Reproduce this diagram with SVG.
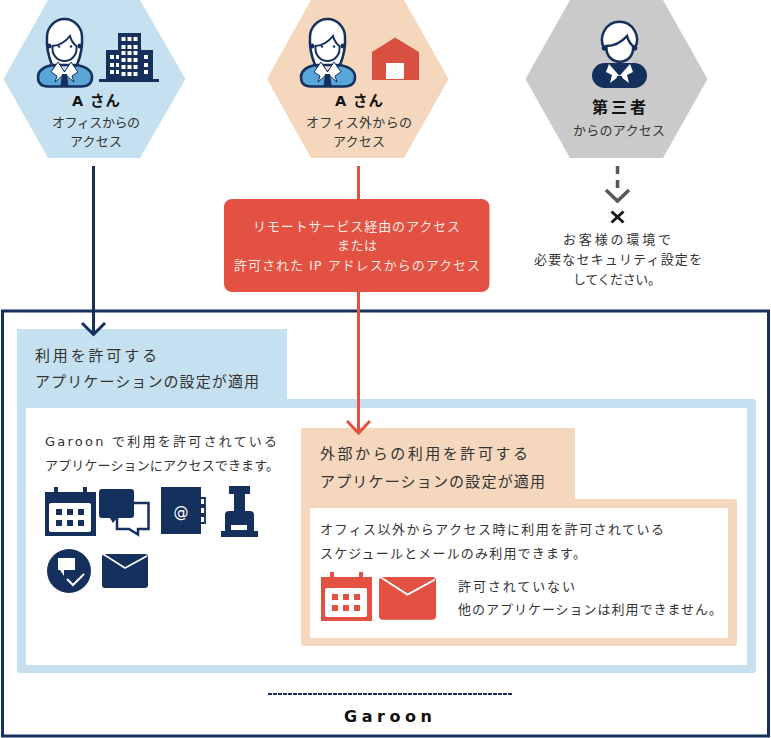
<svg xmlns="http://www.w3.org/2000/svg" width="771" height="738" viewBox="0 0 771 738">
<style>
text{font-family:"DejaVu Sans","Noto Sans CJK JP",sans-serif;fill:#333;font-size:13px}
.b{font-weight:700;fill:#111;font-size:14.500px}
.w{fill:#fbe9e4}
.t{font-size:15px}
.n{fill:#15305c}
.r{fill:#e25141}
.c{fill:none;stroke-width:3}
</style>
<defs>
<g id="cal">
<path d="M9 0h4v5h25v-5h4v5h9v44H0V5h9z"/>
<rect x="4" y="16" width="42" height="29" rx="2" fill="#fff"/>
<path d="M11 22h6v6h-6zM22 22h6v6h-6zM33 22h6v6h-6zM11 33h6v6h-6zM22 33h6v6h-6zM33 33h6v6h-6z"/>
</g>
<g id="mail">
<rect width="46" height="34" rx="3"/>
<path d="M1 0 23 14 45 2" fill="none" stroke="#fff" stroke-width="1.600"/>
</g>
<g id="woman">
<path d="M52 65Q46 50 47 37A17.500 18 0 0 1 82 37Q83 50 77 65Z" fill="#fff" stroke="#15305c" stroke-width="2.500"/>
<circle cx="49" cy="46" r="2.500" class="n"/><circle cx="80" cy="46" r="2.500" class="n"/>
<path d="M52.500 46Q63 45 70 36Q72 43 76.500 46V49A12 12 0 0 1 52.500 49Z" fill="#fff" stroke="#15305c" stroke-width="2"/>
<circle cx="59" cy="46.500" r="1.200" class="n"/><circle cx="71" cy="46.500" r="1.200" class="n"/>
<path d="M52 65Q38 68 38 77Q38 86.500 48 86.500H81Q92 86.500 92 77Q92 68 77 65L64.500 72Z" fill="#5aa6d8" stroke="#15305c" stroke-width="2.500"/>
<path d="M58 62 64.500 72 71 62 78 72 72 76 74 82 66 75 64.500 80 63 75 55 82 57 76 51 72Z" fill="#fff" stroke="#15305c" stroke-width="1"/>
<path d="M62 74h5l1.500 12h-8z" class="n"/>
</g>
<g id="man">
<path d="M604 48A17.500 18 0 1 1 635 48Z" fill="#fff" stroke="#15305c" stroke-width="2.500"/>
<circle cx="604.500" cy="48" r="2.800" class="n"/><circle cx="634.500" cy="48" r="2.800" class="n"/>
<path d="M606.500 46Q618 46 627 36Q629 43 633 46V49A13 12.500 0 0 1 606.500 49Z" fill="#fff" stroke="#15305c" stroke-width="2.500"/>
<rect x="592" y="63" width="55" height="25" rx="12.500" class="n"/>
<path d="M609 64 619.500 76 630 64 633 72 627 75 629 83 621 77 619.500 75 618 77 610 83 612 75 606 72Z" fill="#fff"/>
<path d="M617 76h5l1.500 10h-8z" class="n"/>
</g>
</defs>

<g id="node-a-office">
<path d="M48 0H140L185.500 79 140 158H48L3.500 79Z" fill="#c5e1f0"/>
<use href="#woman"/>
<g id="building">
<path d="M118 33h23v17h12v30h-47V50h12z" class="n"/>
<rect x="99" y="79" width="60" height="3" class="n"/>
<path fill="#fff" d="M121.500 37h4v4h-4zM127.500 37h4v4h-4zM133.500 37h4v4h-4zM121.500 45h4v4h-4zM127.500 45h4v4h-4zM133.500 45h4v4h-4zM121.500 51h4v4h-4zM127.500 51h4v4h-4zM133.500 51h4v4h-4zM110 55h4v4h-4zM116 55h3v4h-3zM144 55h4v4h-4zM110 63h4v4h-4zM116 63h3v4h-3zM121.500 58h4v4h-4zM127.500 58h4v4h-4zM133.500 58h4v4h-4zM144 63h4v4h-4zM121.500 65h4v4h-4zM127.500 65h4v4h-4zM133.500 65h4v4h-4zM110 70h4v4h-4zM116 70h3v4h-3zM121.500 72h4v4h-4zM127.500 72h4v4h-4zM133.500 72h4v4h-4zM144 70h4v4h-4z"/>
</g>
<text class="b" x="72" y="106" textLength="48">A さん</text>
<text x="52" y="127" textLength="88">オフィスからの</text>
<text x="70" y="146" textLength="52">アクセス</text>
</g>

<g id="node-a-outside">
<path d="M311 0H404L448.500 79 404 158H311L267 79Z" fill="#f4d7bd"/>
<use href="#woman" x="263"/>
<path d="M372 52 395 37.500 419 52V80H372Z" fill="#d94f40"/>
<rect x="386" y="63" width="18" height="16" fill="#fff"/>
<text class="b" x="335" y="106" textLength="48">A さん</text>
<text x="306" y="127" textLength="106">オフィス外からの</text>
<text x="333" y="146" textLength="52">アクセス</text>
</g>

<g id="node-third-party">
<path d="M570 0H663L707.500 79 663 158H570L525.500 79Z" fill="#cbcaca"/>
<use href="#man"/>
<text class="b" x="592" y="113" textLength="54" style="font-size:16px">第三者</text>
<text x="573" y="135" textLength="92">からのアクセス</text>
</g>

<g id="node-security-note">
<path d="M611.500 211.500 623.500 222.500M623.500 211.500 611.500 222.500" stroke="#1a1a1a" stroke-width="3" fill="none"/>
<text x="563" y="244" textLength="108">お客様の環境で</text>
<text x="534" y="264" textLength="168">必要なセキュリティ設定を</text>
<text x="573" y="284" textLength="88">してください。</text>
</g>

<g id="node-garoon">
<rect x="2.500" y="311" width="766" height="425" fill="#fff" stroke="#15305c" stroke-width="3"/>
<path d="M268 694H513" stroke="#15305c" stroke-width="2" stroke-dasharray="4 1" fill="none"/>
<text class="b" x="344" y="722" textLength="88" style="font-size:16px">Garoon</text>
</g>

<g id="node-allowed-apps">
<path d="M17 329H287V399H753Q756 399 756 402V670Q756 673 753 673H20Q17 673 17 670Z" fill="#c5e1f0"/>
<rect x="26" y="408" width="721" height="257" fill="#fff"/>
<text class="t" x="35" y="361" textLength="122">利用を許可する</text>
<text class="t" x="35" y="387" textLength="224">アプリケーションの設定が適用</text>
<text x="45" y="446" textLength="232">Garoon で利用を許可されている</text>
<text x="45" y="470" textLength="234">アプリケーションにアクセスできます。</text>
<use href="#cal" transform="translate(45 487)" class="n"/>
<g id="icon-chat">
<path d="M117 503H148.500V529H138V534.500L129 529H117Z" fill="#fff" stroke="#15305c" stroke-width="2.500"/>
<path d="M102 489H131Q134 489 134 492V515Q134 518 131 518H117L113 523 110 518H102Q99 518 99 515V492Q99 489 102 489Z" class="n"/>
</g>
<g id="icon-note">
<path d="M161 487H201V534H161Z" class="n"/>
<path d="M201 498h4v7h-4M201 507h4v7h-4M201 516h4v7h-4" fill="none" stroke="#15305c" stroke-width="1.800"/>
<text x="181" y="517" text-anchor="middle" style="fill:#fff;font-size:15px">@</text>
</g>
<g id="icon-stamp" class="n">
<path d="M229 486h21v8h-5v17h5q4 0 4 4v16h4v6h-37v-6h4v-16q0-4 4-4h5v-17h-5z"/>
<rect x="231" y="525" width="16" height="5" fill="#fff"/>
</g>
<g id="icon-check">
<circle cx="69" cy="571" r="22" class="n"/>
<path d="M58 558H75V570H64V576L60 570H58Z" fill="#fff"/>
<path d="M67 579 73 585 84 574" fill="none" stroke="#fff" stroke-width="2"/>
</g>
<use href="#mail" transform="translate(102 554)" class="n"/>
</g>

<g id="node-external-apps">
<path d="M301 428H575V499H734Q737 499 737 502V643Q737 646 734 646H304Q301 646 301 643Z" fill="#f4d7bd"/>
<rect x="310" y="508" width="418" height="130" fill="#fff"/>
<text class="t" x="320" y="459" textLength="208">外部からの利用を許可する</text>
<text class="t" x="320" y="487" textLength="225">アプリケーションの設定が適用</text>
<text x="320" y="534" textLength="344">オフィス以外からアクセス時に利用を許可されている</text>
<text x="320" y="558" textLength="266">スケジュールとメールのみ利用できます。</text>
<use href="#cal" transform="translate(321 572)" class="r"/>
<use href="#mail" transform="translate(379 577) scale(1.240 1.260)" class="r"/>
<text x="458" y="591" textLength="117">許可されていない</text>
<text x="458" y="614" textLength="264">他のアプリケーションは利用できません。</text>
</g>

<g id="connectors">
<path class="c" d="M93.500 166V333M82 323 93.500 334.500 105 323" stroke="#15305c"/>
<path class="c" d="M358.500 166V433M347 421 358.500 433 370 421" stroke="#e25141"/>
<path class="c" d="M617.500 166V188" stroke="#595757" stroke-dasharray="8 6" style="stroke-width:3.500"/>
<path class="c" d="M606 190 617.500 201 629 190" stroke="#595757" style="stroke-width:3.500"/>
</g>

<g id="node-remote-access">
<rect x="224" y="199" width="265.500" height="93" rx="8" fill="#e25141"/>
<text class="w" x="253" y="231" textLength="207">リモートサービス経由のアクセス</text>
<text class="w" x="337" y="250" textLength="40">または</text>
<text class="w" x="234" y="270" textLength="246">許可された IP アドレスからのアクセス</text>
</g>
</svg>
